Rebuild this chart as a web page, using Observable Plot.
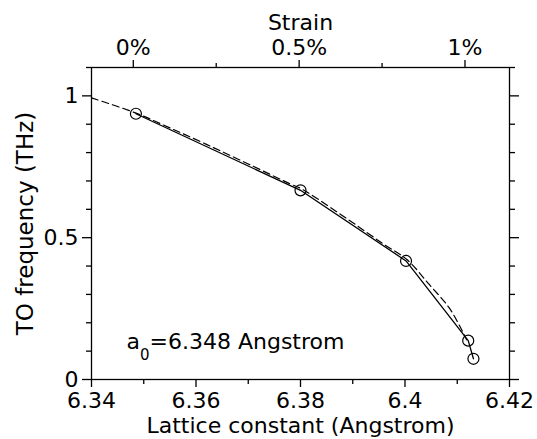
<!DOCTYPE html>
<html>
<head>
<meta charset="utf-8">
<script src="https://cdn.jsdelivr.net/npm/d3@7"></script>
<script src="https://cdn.jsdelivr.net/npm/@observablehq/plot@0.6"></script>
<style>
  body { margin: 0; background: #fff; }
  #chart svg { display: block; }
</style>
</head>
<body>
<div id="chart"></div>
<script>
// Computed TO phonon frequencies vs lattice constant
const latticeConst = [6.3485, 6.380, 6.4002, 6.4121, 6.4131];
const toFreq = [0.937, 0.667, 0.418, 0.137, 0.073];

// Fitted curve (dashed)
const fitLattice = [6.3400, 6.3484, 6.3550, 6.3620, 6.3700, 6.3780, 6.3800, 6.3820,
                    6.3896, 6.3960, 6.4003, 6.4046, 6.4084, 6.4106, 6.4118];
const fitFreq    = [0.993, 0.940, 0.887, 0.829, 0.760, 0.690, 0.674, 0.652,
                    0.558, 0.476, 0.424, 0.336, 0.254, 0.184, 0.140];

// Equilibrium lattice constant, used for the strain axis
const a0 = 6.348;

// Axis ticks
const xMajorTicks = [6.34, 6.36, 6.38, 6.40, 6.42];
const xTickLabels = ["6.34", "6.36", "6.38", "6.4", "6.42"];
const xMinorTicks = [6.35, 6.37, 6.39, 6.41];
const yMajorTicks = [0, 0.5, 1];
const yTickLabels = ["0", "0.5", "1"];
const yMinorTicks = [0.1, 0.2, 0.3, 0.4, 0.6, 0.7, 0.8, 0.9, 1.1];
const strainMajor = [0, 0.005, 0.01];
const strainLabels = ["0%", "0.5%", "1%"];
const strainMinor = [0.0025, 0.0075];

const points = latticeConst.map((a, i) => ({a, f: toFreq[i]}));
const fit = fitLattice.map((a, i) => ({a, f: fitFreq[i]}));
const strainPos = s => a0 * (1 + s);
const annotText = `a0=${a0} Angstrom`;

const blank = () => "";
const lw = 1.3;

const chart = Plot.plot({
  width: 537,
  height: 439,
  marginLeft: 91,
  marginRight: 28,
  marginTop: 67,
  marginBottom: 60,
  style: {fontFamily: "DejaVu Sans", fontSize: "22px", color: "black", background: "white", overflow: "visible"},
  x: {domain: [6.34, 6.42]},
  y: {domain: [0, 1.1]},
  marks: [
    // bottom axis: lattice constant
    Plot.axisX({anchor: "bottom", ticks: xMajorTicks, tickSize: 8, tickPadding: 5, strokeWidth: lw, fontSize: 22,
      tickFormat: d => xTickLabels[xMajorTicks.indexOf(d)], label: null}),
    Plot.axisX({anchor: "bottom", ticks: xMinorTicks, tickSize: 5, strokeWidth: lw, tickFormat: blank, label: null}),
    // top axis: strain
    Plot.axisX({anchor: "top", ticks: strainMajor.map(strainPos), tickSize: 8, tickPadding: 5, strokeWidth: lw, fontSize: 22,
      tickFormat: (d) => strainLabels[strainMajor.map(strainPos).indexOf(d)], label: null}),
    Plot.axisX({anchor: "top", ticks: strainMinor.map(strainPos), tickSize: 5, strokeWidth: lw, tickFormat: blank, label: null}),
    // left and right axes: frequency
    Plot.axisY({anchor: "left", ticks: yMajorTicks, tickSize: 9, tickPadding: 4, strokeWidth: lw, fontSize: 22,
      tickFormat: d => yTickLabels[yMajorTicks.indexOf(d)], label: null}),
    Plot.axisY({anchor: "left", ticks: yMinorTicks, tickSize: 5, strokeWidth: lw, tickFormat: blank, label: null}),
    Plot.axisY({anchor: "right", ticks: yMajorTicks, tickSize: 9, strokeWidth: lw, tickFormat: blank, label: null}),
    Plot.axisY({anchor: "right", ticks: yMinorTicks, tickSize: 5, strokeWidth: lw, tickFormat: blank, label: null}),
    Plot.frame({stroke: "black", strokeWidth: lw}),
    // fitted curve
    Plot.line(fit, {x: "a", y: "f", stroke: "black", strokeWidth: 1.2, strokeDasharray: "7,4", curve: "catmull-rom"}),
    // computed points
    Plot.line(points, {x: "a", y: "f", stroke: "black", strokeWidth: 1.3}),
    Plot.dot(points, {x: "a", y: "f", r: 5.5, stroke: "black", strokeWidth: 1.2, fill: "none"}),
    // axis titles
    Plot.text(["Strain"], {frameAnchor: "top", textAnchor: "middle", lineAnchor: "bottom", dy: -38, fontSize: 22}),
    Plot.text(["Lattice constant (Angstrom)"], {frameAnchor: "bottom", textAnchor: "middle", lineAnchor: "bottom", dy: 53, fontSize: 22}),
    Plot.text(["TO frequency (THz)"], {frameAnchor: "left", textAnchor: "middle", rotate: -90, lineAnchor: "bottom", dx: -59, fontSize: 23}),
    // annotation
    Plot.text([annotText], {frameAnchor: "bottom-left", textAnchor: "start", lineAnchor: "bottom", dx: 35, dy: -31, fontSize: 22})
  ]
});

// Render the subscript in a0
for (const t of chart.querySelectorAll("text")) {
  if (t.textContent === annotText) {
    t.textContent = "";
    const ns = "http://www.w3.org/2000/svg";
    const mk = (s, attrs) => {
      const sp = document.createElementNS(ns, "tspan");
      for (const k in attrs) sp.setAttribute(k, attrs[k]);
      sp.textContent = s;
      t.appendChild(sp);
    };
    mk("a", {});
    mk("0", {"font-size": 15, dy: 11});
    mk(`=${a0} Angstrom`, {dy: -11});
  }
}

document.getElementById("chart").appendChild(chart);
</script>
</body>
</html>
